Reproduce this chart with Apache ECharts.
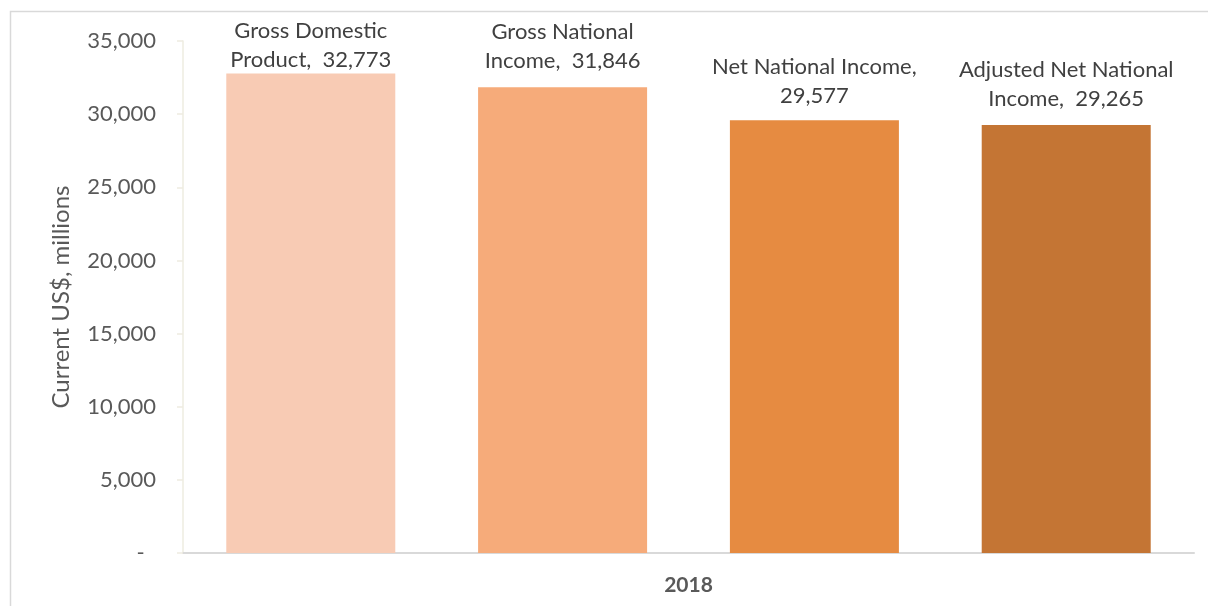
<!DOCTYPE html>
<html>
<head>
<meta charset="utf-8">
<script src="https://cdn.jsdelivr.net/npm/echarts@6/dist/echarts.min.js"></script>
<style>
  html, body { margin: 0; padding: 0; background: #fff; }
  #chart { width: 1208px; height: 606px; }
</style>
</head>
<body>
<div id="chart"></div>
<script>
// data
const categories = ['2018'];
const seriesNames = ['Gross Domestic Product', 'Gross National Income', 'Net National Income', 'Adjusted Net National Income'];
const labelHeads = ['Gross Domestic\nProduct,  ', 'Gross National\nIncome,  ', 'Net National Income,\n', 'Adjusted Net National\nIncome,  '];
const values = [32773, 31846, 29577, 29265];
const barColors = ['#F8CBB4', '#F6AB7A', '#E68B41', '#C47534'];
const labelGaps = [-1, 12, 10, 11];
const yTicks = [0, 5000, 10000, 15000, 20000, 25000, 30000, 35000];

const FONT = 'Lato, "Open Sans", sans-serif';

function fmt(v) {
    return v === 0 ? '-  ' : v.toLocaleString('en-US');
}

const chart = echarts.init(document.getElementById('chart'));

const option = {
    animation: false,
    textStyle: { fontFamily: FONT },
    graphic: [
        {
            type: 'rect',
            shape: { x: 10.5, y: 11.5, width: 1220, height: 620 },
            style: { fill: 'none', stroke: '#D9D9D9', lineWidth: 1.5 },
            silent: true
        }
    ],
    grid: {
        left: 183,
        right: 14,
        top: 41,
        bottom: 53
    },
    xAxis: {
        type: 'category',
        data: categories,
        axisLine: { lineStyle: { color: '#D9D9D9', width: 2 } },
        axisTick: { show: false },
        axisLabel: {
            color: '#595959',
            fontFamily: FONT,
            fontSize: 21,
            fontWeight: 'bold',
            margin: 22
        }
    },
    yAxis: {
        type: 'value',
        min: yTicks[0],
        max: yTicks[yTicks.length - 1],
        interval: 5000,
        name: 'Current US$, millions',
        nameLocation: 'middle',
        nameRotate: 90,
        nameGap: 110,
        nameTextStyle: { color: '#595959', fontSize: 24, fontFamily: FONT },
        axisLine: { show: true, lineStyle: { color: '#EEECE1', width: 1.5 } },
        axisTick: { show: true, length: 6, lineStyle: { color: '#EEECE1', width: 1.5 } },
        splitLine: { show: false },
        axisLabel: {
            color: '#595959',
            fontFamily: FONT,
            fontSize: 22,
            margin: 27,
            formatter: fmt
        }
    },
    series: seriesNames.map((name, i) => ({
        name: name,
        type: 'bar',
        data: [values[i]],
        barWidth: 169,
        barGap: '49%',
        itemStyle: { color: barColors[i] },
        label: {
            show: true,
            position: 'top',
            distance: labelGaps[i],
            color: '#404040',
            fontFamily: FONT,
            fontSize: 22,
            lineHeight: 29,
            align: 'center',
            formatter: () => labelHeads[i] + values[i].toLocaleString('en-US')
        }
    }))
};

chart.setOption(option);
</script>
</body>
</html>
